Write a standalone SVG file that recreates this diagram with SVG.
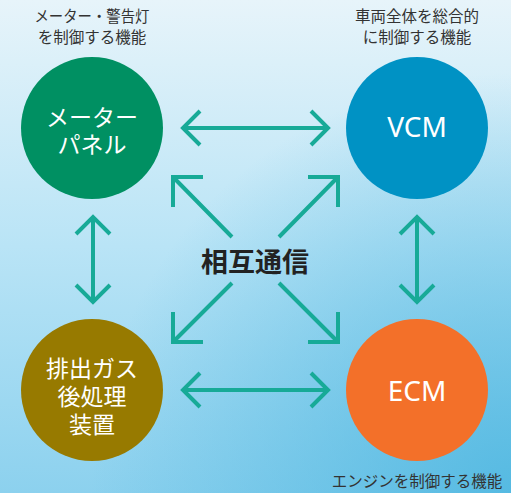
<svg xmlns="http://www.w3.org/2000/svg" width="511" height="493" viewBox="0 0 511 493">
<defs>
<linearGradient id="bg" x1="0" y1="0" x2="0" y2="1">
<stop offset="0" stop-color="#e7f4fa"/>
<stop offset="0.5" stop-color="#b9e4f6"/>
<stop offset="1" stop-color="#8cd1ee"/>
</linearGradient>
<radialGradient id="br" cx="511" cy="493" r="420" gradientUnits="userSpaceOnUse">
<stop offset="0" stop-color="#4cb6e0" stop-opacity="0.85"/>
<stop offset="1" stop-color="#4cb6e0" stop-opacity="0"/>
</radialGradient>
<style>
.ar{fill:none;stroke:#17aa97;stroke-width:4;stroke-linecap:butt;stroke-linejoin:miter}
.lb{font-family:"Noto Sans CJK JP","Noto Sans",sans-serif;font-size:15.5px;fill:#333;text-anchor:middle}
.nt{font-family:"Noto Sans CJK JP","Noto Sans",sans-serif;font-size:23px;fill:#fff;text-anchor:middle}
.nl{font-family:"Noto Sans","Noto Sans CJK JP",sans-serif;font-size:28px;fill:#fff;text-anchor:middle}
</style>
</defs>
<rect width="511" height="493" fill="url(#bg)"/>
<rect width="511" height="493" fill="url(#br)"/>
<g id="meter">
<circle cx="92" cy="128" r="71" fill="#009062"/>
<text class="nt"><tspan x="92" y="126">メーター</tspan><tspan x="92" y="153">パネル</tspan></text>
<text class="lb" x="92" y="22" textLength="115" lengthAdjust="spacingAndGlyphs">メーター・警告灯</text>
<text class="lb" x="92" y="43">を制御する機能</text>
</g>
<g id="vcm">
<circle cx="417" cy="128" r="71" fill="#0092c4"/>
<text class="nl" x="417" y="137">VCM</text>
<text class="lb" x="417" y="22">車両全体を総合的</text>
<text class="lb" x="417" y="43">に制御する機能</text>
</g>
<g id="exhaust">
<circle cx="92" cy="390" r="71" fill="#977a00"/>
<text class="nt"><tspan x="92" y="377">排出ガス</tspan><tspan x="92" y="405">後処理</tspan><tspan x="92" y="433">装置</tspan></text>
</g>
<g id="ecm">
<circle cx="417" cy="390" r="71" fill="#f37029"/>
<text class="nl" x="417" y="401">ECM</text>
<text class="lb" x="417" y="487">エンジンを制御する機能</text>
</g>
<g id="center">
<text x="255" y="272" font-family="'Noto Sans CJK JP',sans-serif" font-weight="bold" font-size="27" fill="#222" text-anchor="middle">相互通信</text>
</g>
<g id="connectors">
<path class="ar" d="M183,128H328M200,111L183,128L200,145M311,111L328,128L311,145"/>
<path class="ar" d="M183,390H328M200,373L183,390L200,407M311,373L328,390L311,407"/>
<path class="ar" d="M93,217V302M76,234L93,217L110,234M76,285L93,302L110,285"/>
<path class="ar" d="M417,217V302M400,234L417,217L434,234M400,285L417,302L434,285"/>
<path class="ar" d="M232,237L175,179M203,177H173V207"/>
<path class="ar" d="M279,237L336,179M308,177H338V207"/>
<path class="ar" d="M232,283L175,340M203,342H173V312"/>
<path class="ar" d="M279,283L336,340M308,342H338V312"/>
</g>
</svg>
